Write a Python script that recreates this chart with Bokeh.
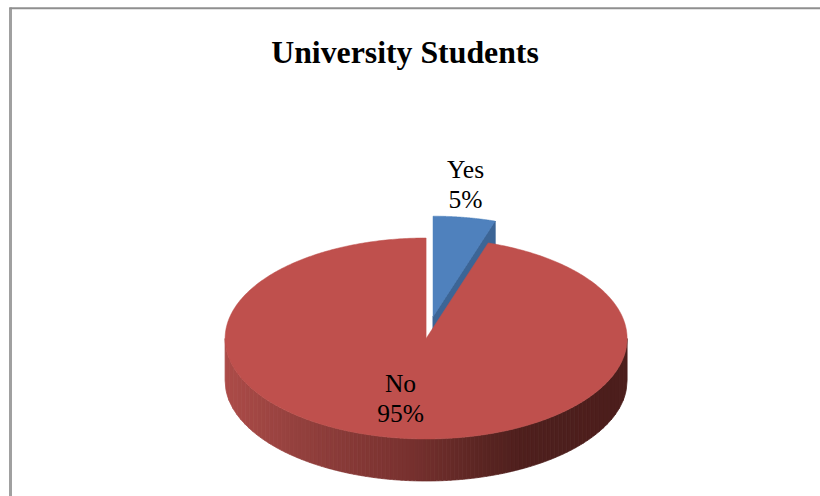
import numpy as np
from bokeh.core.properties import value
from bokeh.embed import file_html
from bokeh.models import Range1d
from bokeh.plotting import figure
from bokeh.resources import INLINE

# Survey answers
categories = ["Yes", "No"]
shares = [5, 95]
slice_colors = ["#4f81bd", "#bf504d"]
cut_face_color = "#3c6596"
chart_title = "University Students"

# Pie geometry in page units
CX, CY = 425.6, 338.0
RX, RY = 201.0, 100.5
DEPTH = 42.0
EXPLODE = 0.22
FRAME = "#8f8f8f"

# Wall shading, left to right across the pie
wall_stops_x = [0.0, 0.19, 0.44, 0.64, 0.74, 1.0]
wall_stops_rgb = [
    (172, 75, 72),
    (146, 64, 61),
    (122, 50, 48),
    (90, 37, 34),
    (78, 31, 29),
    (76, 30, 28),
]


def rim(theta, cx, cy):
    """Point on the top ellipse; theta runs clockwise from 12 o'clock."""
    return cx + RX * np.sin(theta), cy - RY * np.cos(theta)


def wedge(start, end, cx, cy, n=240):
    t = np.linspace(start, end, n)
    x, y = rim(t, cx, cy)
    return np.r_[cx, x], np.r_[cy, y]


p = figure(
    width=820,
    height=496,
    x_range=Range1d(0, 820),
    y_range=Range1d(496, 0),
    toolbar_location=None,
    output_backend="svg",
    min_border=0,
    background_fill_color="white",
    border_fill_color="white",
    outline_line_color=None,
)
p.axis.visible = False
p.grid.visible = False

# Chart frame: only the top and left edges fall inside the page
p.line([10, 10], [7, 496], line_color="#a0a0a0", line_width=3)
p.line([9, 820], [7.7, 7.7], line_color=FRAME, line_width=2)

fractions = np.array(shares, dtype=float) / sum(shares)
bounds = np.r_[0, np.cumsum(fractions)] * 2 * np.pi
yes_start, yes_end = bounds[0], bounds[1]
no_start, no_end = bounds[1], bounds[2]

# The "Yes" slice sits pulled out along its bisector
mid = (yes_start + yes_end) / 2
yes_cx = CX + EXPLODE * RX * np.sin(mid)
yes_cy = CY - EXPLODE * RY * np.cos(mid)

# Cut face of the pulled-out slice, behind the red slice
ex, ey = rim(yes_end, yes_cx, yes_cy)
p.patch(
    [yes_cx, ex, ex, yes_cx],
    [yes_cy, ey, ey + DEPTH, yes_cy + DEPTH],
    fill_color=cut_face_color,
    line_color=cut_face_color,
)
yx, yy = wedge(yes_start, yes_end, yes_cx, yes_cy)
p.patch(yx, yy, fill_color=slice_colors[0], line_color=slice_colors[0], line_width=0.5)

# Outer wall of the red slice, drawn as shaded strips of equal width
strip_edges = np.linspace(CX + RX, CX - RX, 101)
xs, ys, cols = [], [], []
for right, left in zip(strip_edges[:-1], strip_edges[1:]):
    x = np.linspace(left, right, 6)
    ratio = np.clip((x - CX) / RX, -1, 1)
    y = CY + RY * np.sqrt(1 - ratio**2)
    xs.append(np.r_[x, x[::-1]].tolist())
    ys.append(np.r_[y, (y + DEPTH)[::-1]].tolist())
    frac = (x.mean() - (CX - RX)) / (2 * RX)
    rgb = [np.interp(frac, wall_stops_x, [s[i] for s in wall_stops_rgb]) for i in range(3)]
    cols.append("#%02x%02x%02x" % tuple(int(round(c)) for c in rgb))
p.patches(xs, ys, fill_color=cols, line_color=cols, line_width=0.8)

nx, ny = wedge(no_start, no_end, CX, CY, n=500)
p.patch(nx, ny, fill_color=slice_colors[1], line_color=slice_colors[1], line_width=0.5)

serif = value("Liberation Serif")
p.text(
    [404.5], [52], text=[chart_title], text_font=serif, text_font_style="bold",
    text_font_size="31.8px", text_align="center", text_baseline="alphabetic", text_color="black",
)

# Category name above its percentage
label_x = [465, 400]
label_y = [169, 382.5]
for cat, share, lx, ly in zip(categories, shares, label_x, label_y):
    p.text(
        [lx, lx], [ly, ly + 30], text=[cat, f"{share}%"], text_font=serif,
        text_font_size="25.5px", text_align="center", text_baseline="alphabetic", text_color="black",
    )

open("out.html", "w").write(file_html(p, INLINE))
